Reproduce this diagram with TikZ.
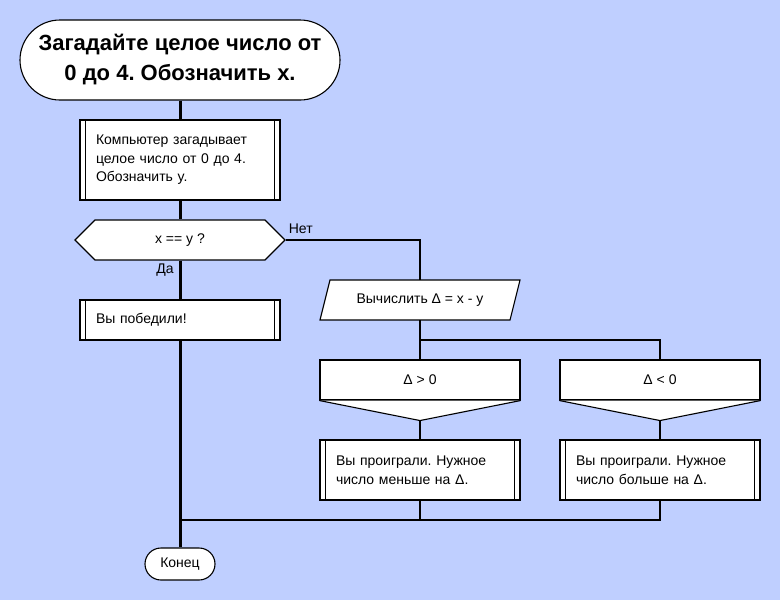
\documentclass[tikz,border=0pt]{standalone}
\usepackage{fontspec}
\setmainfont{Liberation Sans}
\usetikzlibrary{shapes.symbols,calc}
\definecolor{bgblue}{RGB}{191,207,255}
\frenchspacing
\tikzset{
  base/.style={draw=black, line width=1.1pt, fill=white, font=\fontsize{14}{18.5}\selectfont},
  term/.style={base, rectangle, inner sep=0pt},
  procbox/.style={base, rectangle, align=left, text width=168pt, inner xsep=16pt, inner ysep=0pt},
  condbox/.style={base, rectangle, minimum width=200pt, minimum height=40pt, inner sep=0pt},
  mainflow/.style={line width=3pt},
  thinflow/.style={line width=1.1pt},
  lbl/.style={font=\fontsize{14}{16}\selectfont, inner sep=0pt}
}
\newcommand{\dbl}[1]{\draw[line width=1.1pt] ([xshift=6pt]#1.north west) -- ([xshift=6pt]#1.south west);
  \draw[line width=1.1pt] ([xshift=-6pt]#1.north east) -- ([xshift=-6pt]#1.south east);}
\begin{document}
\begin{tikzpicture}[x=1pt,y=-1pt]
\fill[bgblue] (0,0) rectangle (780,600);
\useasboundingbox (0,0) rectangle (780,600);

% main flow
\node[term, rounded corners=40pt, minimum width=320pt, minimum height=80pt, align=center,
  font=\fontsize{22}{30}\selectfont\bfseries] (start) at (180,60) {Загадайте целое число от\\0 до 4. Обозначить x.};
\node[procbox, minimum height=80pt] (comp) at (180,160) {Компьютер загадывает\\целое число от 0 до 4.\\Обозначить y.};
\node[base, signal, signal to=west and east, signal pointer angle=90, minimum width=210pt, minimum height=40pt, inner sep=0pt] (hex) at (180,240) {x == y ?};
\node[procbox, minimum height=40pt] (win) at (180,320) {Вы победили!};
\node[term, rounded corners=16pt, minimum width=70pt, minimum height=32pt] (fin) at (180,564) {Конец};

\coordinate (join) at (180,520);
\draw[mainflow] (start.south) -- (comp.north);
\draw[mainflow] (comp.south) -- (hex.north);
\draw[mainflow] (hex.south) -- (win.north);
\draw[mainflow] (win.south) -- (fin.north);

\node[lbl] (no) at ([xshift=15pt,yshift=11pt]hex.east) {Нет};
\node[lbl] (yes) at ([xshift=-15pt,yshift=-10pt]hex.south) {Да};

% calculation parallelogram
\node[inner sep=0pt, minimum width=190pt, minimum height=40pt] (calc) at (420,300) {};
\filldraw[fill=white, draw=black, line width=1.1pt] (330,280) -- (520,280) -- (510,320) -- (320,320) -- cycle;
\node[font=\fontsize{14}{18}\selectfont, inner sep=0pt] (calctext) at (calc.center) {Вычислить Δ = x - y};

\draw[thinflow] (hex.east) -| (calc.north);

\coordinate (split) at (420,340);
\node[condbox] (gt) at (420,380) {Δ > 0};
\node[condbox] (lt) at (660,380) {Δ < 0};
\coordinate (gtTip) at ([yshift=-20pt]gt.south);
\coordinate (ltTip) at ([yshift=-20pt]lt.south);
\filldraw[fill=white, draw=black, line width=1.1pt] (gt.south west) -- (gtTip) -- (gt.south east);
\filldraw[fill=white, draw=black, line width=1.1pt] (lt.south west) -- (ltTip) -- (lt.south east);

\draw[thinflow] (calc.south) -- (split);
\draw[thinflow] (split) -- (gt.north);
\draw[thinflow] (split) -| (lt.north);

\node[procbox, minimum height=60pt] (less) at (420,470) {Вы проиграли. Нужное\\число меньше на Δ.};
\node[procbox, minimum height=60pt] (more) at (660,470) {Вы проиграли. Нужное\\число больше на Δ.};

\draw[thinflow] (gtTip) -- (less.north);
\draw[thinflow] (ltTip) -- (more.north);

\coordinate (mergeA) at (420,520);
\draw[thinflow] (less.south) -- (mergeA);
\draw[thinflow] (more.south) |- (mergeA);
\draw[thinflow] (mergeA) -- (join);

\dbl{comp}
\dbl{win}
\dbl{less}
\dbl{more}
\end{tikzpicture}
\end{document}
